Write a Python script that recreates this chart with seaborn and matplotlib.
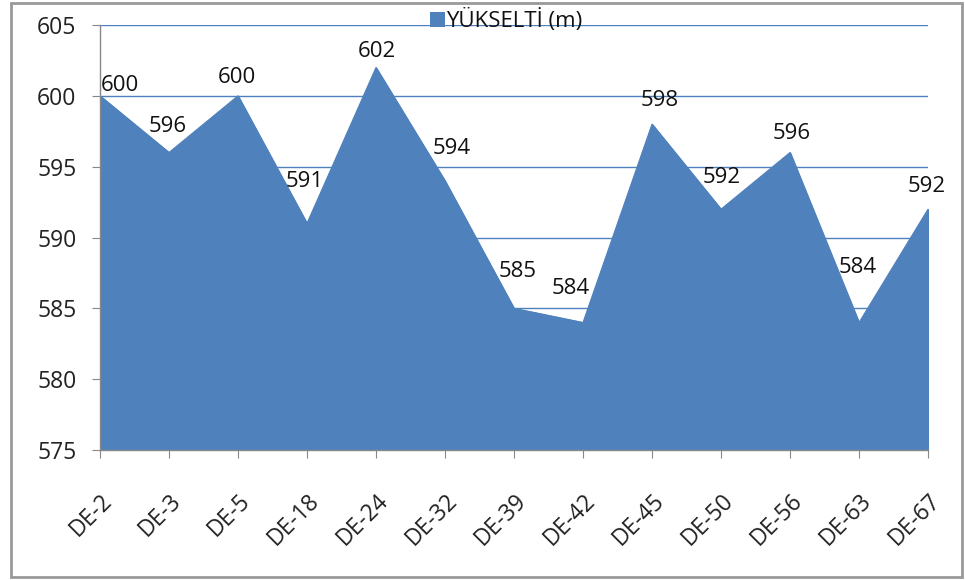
import matplotlib
matplotlib.use("Agg")
import matplotlib.pyplot as plt
from matplotlib.patches import Rectangle
import seaborn as sns
import pandas as pd

# Chart data
stations = ["DE-2", "DE-3", "DE-5", "DE-18", "DE-24", "DE-32", "DE-39",
            "DE-42", "DE-45", "DE-50", "DE-56", "DE-63", "DE-67"]
elevation = [600, 596, 600, 591, 602, 594, 585, 584, 598, 592, 596, 584, 592]
y_ticks = [575, 580, 585, 590, 595, 600, 605]

# label placement (pixel offsets from each point, as in the original chart)
label_dx = [20, -1, -1, -2, 1, 7, 4, -12, 8, 1, 2, -1, -1]
label_dy = [10, 26, 18, 42, 16, 32, 37, 34, 24, 32, 19, 55, 23]

df = pd.DataFrame({"station": stations, "elev": elevation})
df["pos"] = range(len(df))

sns.set_style("white")
plt.rcParams["font.family"] = ["Open Sans", "DejaVu Sans"]

fill_color = "#4F81BD"

fig = plt.figure(figsize=(9.65, 5.8), dpi=100)
ax = fig.add_axes([0.1036, 0.2241, 0.8581, 0.7328])

# area chart
sns.lineplot(data=df, x="pos", y="elev", ax=ax, color=fill_color, linewidth=0.8)
ax.fill_between(df["pos"], df["elev"], 575, color=fill_color, zorder=2)

ax.set_xlim(0, len(df) - 1)
ax.set_ylim(575, 605)
ax.set_yticks(y_ticks)
ax.set_xticks(df["pos"])
ax.set_xticklabels(stations, rotation=45, ha="right", rotation_mode="anchor")
ax.tick_params(axis="both", labelsize=16.5, colors="#222222", length=6,
               direction="out", color="#888888", bottom=True, left=True)
ax.tick_params(axis="y", pad=11)
ax.tick_params(axis="x", pad=22)
ax.set_xlabel("")
ax.set_ylabel("")

ax.yaxis.grid(True, color="#4F81BD", linewidth=1.0, zorder=0)
ax.set_axisbelow(True)
for side in ["top", "right"]:
    ax.spines[side].set_visible(False)
for side in ["left", "bottom"]:
    ax.spines[side].set_color("#888888")
    ax.spines[side].set_linewidth(1.0)
    ax.spines[side].set_zorder(3)

# data labels
px = 72 / fig.dpi
for i, v in enumerate(elevation):
    ax.annotate(str(v), (i, v), xytext=(label_dx[i] * px, label_dy[i] * px),
                textcoords="offset points", ha="center", va="center",
                fontsize=16, color="#111111", zorder=5)

# legend
fig.patches.append(Rectangle((0.4456, 0.9535), 0.0155, 0.026, transform=fig.transFigure,
                             facecolor=fill_color, edgecolor="none"))
fig.text(0.4625, 0.965, "YÜKSELTİ (m)", fontsize=16, color="#111111",
         va="center", ha="left")

# outer frame
fig.patches.append(Rectangle((0.011, 0.006), 0.986, 0.988, transform=fig.transFigure,
                             fill=False, edgecolor="#999999", linewidth=2))

fig.savefig("out.png", dpi=100)
